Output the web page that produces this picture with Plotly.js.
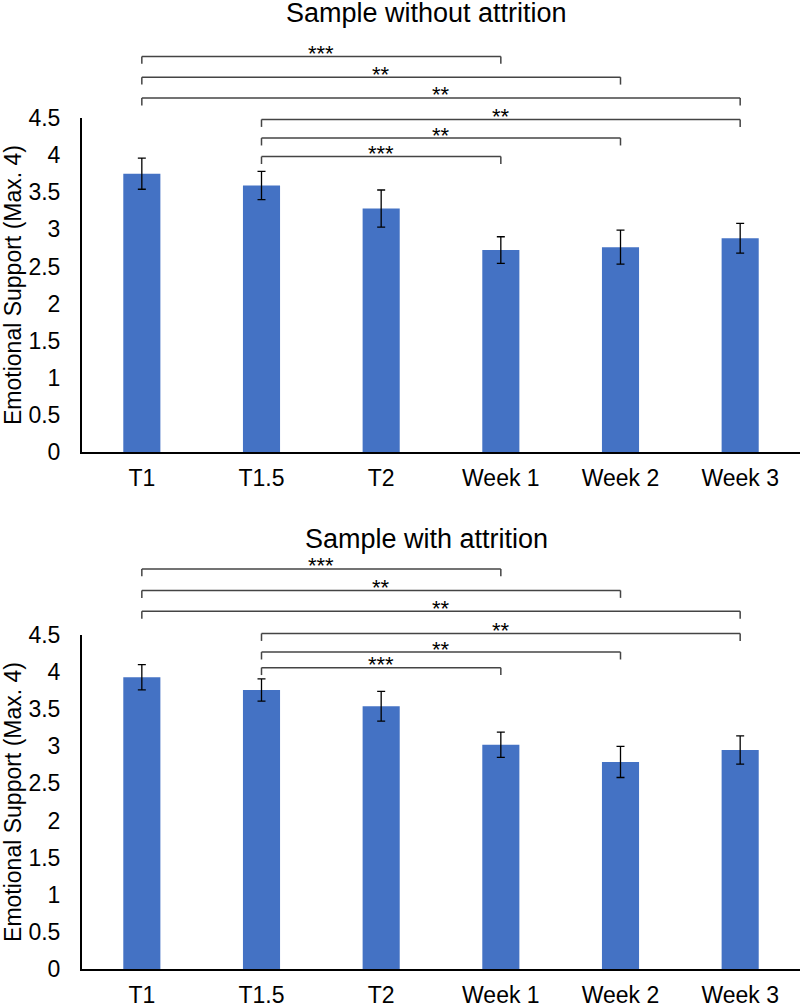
<!DOCTYPE html>
<html><head><meta charset="utf-8">
<script src="https://cdn.plot.ly/plotly-3.0.1.min.js"></script>
<style>html,body{margin:0;padding:0;background:#fff}#chart{width:800px;height:1006px}</style>
</head><body><div id="chart"></div>
<script>
const categories = ['T1', 'T1.5', 'T2', 'Week 1', 'Week 2', 'Week 3'];
const meansWithout = [3.75, 3.59, 3.28, 2.72, 2.76, 2.88];
const errWithout = [0.21, 0.19, 0.25, 0.18, 0.23, 0.20];
const meansWith = [3.93, 3.76, 3.54, 3.02, 2.79, 2.95];
const errWith = [0.17, 0.15, 0.20, 0.17, 0.21, 0.19];
const yTickVals = [0, 0.5, 1, 1.5, 2, 2.5, 3, 3.5, 4, 4.5];
const yTickText = ['0', '0.5', '1', '1.5', '2', '2.5', '3', '3.5', '4', '4.5'];
const compFrom = [0, 0, 0, 1, 1, 1];
const compTo = [3, 4, 5, 5, 4, 3];
const compStars = ['***', '**', '**', '**', '**', '***'];
const levelsWithout = [5.33, 5.05, 4.77, 4.48, 4.23, 3.98];
const levelsWith = [5.39, 5.10, 4.82, 4.52, 4.27, 4.06];
const panelTitles = ['Sample without attrition', 'Sample with attrition'];
const yTitle = 'Emotional Support (Max. 4)';

const FONT = 'Liberation Sans, Arial, sans-serif';
const BAR = '#4472C4';
const yMax = 4.5;
const bracketDrop = 0.1;

function barTrace(means, errs, xa, ya) {
  return {
    type: 'bar', x: categories, y: means, xaxis: xa, yaxis: ya,
    marker: {color: BAR, line: {width: 0}},
    error_y: {type: 'data', array: errs, visible: true, color: '#000', thickness: 1.3, width: 4},
    hoverinfo: 'skip'
  };
}

const shapes = [];
const annotations = [];
function addBrackets(levels, xr, yr) {
  for (let i = 0; i < compFrom.length; i++) {
    const a = categories[compFrom[i]], b = categories[compTo[i]];
    const top = levels[i] / yMax, bot = (levels[i] - bracketDrop) / yMax;
    const line = {color: '#444', width: 1.5};
    shapes.push({type: 'line', xref: xr, yref: yr + ' domain', x0: a, x1: b, y0: top, y1: top, line});
    shapes.push({type: 'line', xref: xr, yref: yr + ' domain', x0: a, x1: a, y0: top, y1: bot, line});
    shapes.push({type: 'line', xref: xr, yref: yr + ' domain', x0: b, x1: b, y0: top, y1: bot, line});
    annotations.push({
      xref: 'paper', yref: yr + ' domain', showarrow: false,
      x: ((compFrom[i] + compTo[i]) / 2 + 0.5) / categories.length,
      y: top, yanchor: 'middle', yshift: 3, borderpad: 0,
      text: compStars[i], font: {family: FONT, size: 22, color: '#000'}
    });
  }
}
addBrackets(levelsWithout, 'x', 'y');
addBrackets(levelsWith, 'x2', 'y2');

annotations.push({xref: 'paper', yref: 'paper', x: 0.48, y: 1, yanchor: 'top', yshift: 3, showarrow: false, borderpad: 0,
  text: panelTitles[0], font: {family: FONT, size: 27, color: '#000'}});
annotations.push({xref: 'paper', yref: 'paper', x: 0.48, y: 0.5, yanchor: 'middle', yshift: -36, showarrow: false, borderpad: 0,
  text: panelTitles[1], font: {family: FONT, size: 27, color: '#000'}});

function xAxis(anchor) {
  return {
    domain: [0, 1], anchor, type: 'category', range: [-0.5, 5.5],
    showline: true, linecolor: '#000', linewidth: 2, ticks: '', showgrid: false, zeroline: false,
    tickfont: {family: FONT, size: 23, color: '#000'}, ticklabelstandoff: 4, automargin: false, fixedrange: true
  };
}
function yAxis(anchor, domain) {
  return {
    domain, anchor, range: [0, yMax], tickvals: yTickVals, ticktext: yTickText,
    showline: true, linecolor: '#000', linewidth: 2, ticks: '', showgrid: false, zeroline: false,
    tickfont: {family: FONT, size: 23, color: '#000'}, ticklabelstandoff: 15, automargin: false, fixedrange: true,
    title: {text: yTitle, font: {family: FONT, size: 23, color: '#000'}, standoff: 4}
  };
}

const layout = {
  width: 800, height: 1006,
  margin: {l: 82, r: 0, t: 0, b: 0},
  paper_bgcolor: '#fff', plot_bgcolor: '#fff',
  showlegend: false, hovermode: false, bargap: 0.69,
  xaxis: xAxis('y'), yaxis: yAxis('x', [0.5507, 0.8827]),
  xaxis2: xAxis('y2'), yaxis2: yAxis('x2', [0.0368, 0.3688]),
  shapes, annotations
};

Plotly.newPlot('chart', [barTrace(meansWithout, errWithout, 'x', 'y'), barTrace(meansWith, errWith, 'x2', 'y2')], layout, {displayModeBar: false, staticPlot: true});
</script></body></html>
